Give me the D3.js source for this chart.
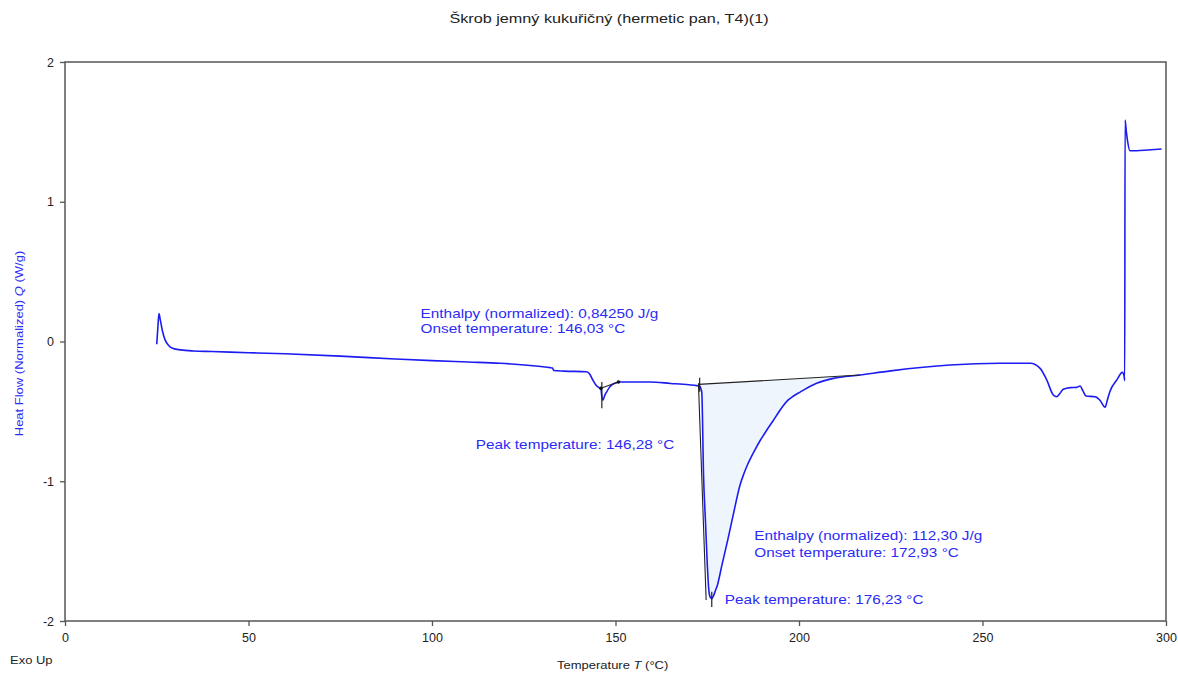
<!DOCTYPE html>
<html>
<head>
<meta charset="utf-8">
<script src="https://cdn.jsdelivr.net/npm/d3@7"></script>
<style>
  body { margin: 0; background: #fff; }
  svg { font-family: "Liberation Sans", Arial, sans-serif; }
</style>
</head>
<body>
<svg id="chart" width="1178" height="673"></svg>
<script>
// DSC curve, temperature (°C) vs normalized heat flow (W/g)
var temps = [25.0, 25.3, 25.6, 26.0, 26.6, 27.3, 28.3, 29.5, 31.5, 35, 40, 50, 60, 75, 90, 100, 110,
  118.5, 126, 132.2, 132.8, 133.2, 136, 142.1, 143.0, 143.8, 144.6, 145.4, 146.0, 146.3, 146.6, 147.0,
  147.6, 148.3, 149.0, 150.0, 151, 155, 159.4, 165, 170, 172.1, 172.9, 173.5, 174.0, 174.5, 175.0, 175.4,
  175.8, 176.2, 176.7, 177.2, 177.8, 179, 180.5, 182, 183.9, 185, 186, 187, 188, 189.5, 191.2, 193, 194.5,
  195.7, 197, 198.5, 200.3, 204.8, 209.4, 216.6, 225, 241.1, 254.8, 263, 265.7, 267.5, 269.3, 270.2, 271,
  272, 274, 275.7, 276.6, 277.3, 278.2, 280.7, 282.0, 283.4, 284.0, 284.7, 286.6, 288.1, 288.6, 288.75,
  288.85, 289.2, 289.5, 290.2, 292, 295, 298.8];
var heatFlow = [-0.02, 0.10, 0.20, 0.15, 0.07, 0.01, -0.03, -0.05, -0.06, -0.068, -0.072, -0.08, -0.088,
  -0.105, -0.125, -0.137, -0.147, -0.156, -0.17, -0.187, -0.19, -0.208, -0.212, -0.216, -0.235, -0.275,
  -0.31, -0.328, -0.335, -0.40, -0.42, -0.39, -0.36, -0.33, -0.31, -0.297, -0.29, -0.29, -0.29, -0.30,
  -0.31, -0.316, -0.32, -0.36, -0.97, -1.28, -1.59, -1.77, -1.83, -1.84, -1.82, -1.785, -1.74, -1.6,
  -1.43, -1.25, -1.03, -0.945, -0.88, -0.825, -0.775, -0.705, -0.635, -0.565, -0.505, -0.46, -0.42,
  -0.39, -0.362, -0.299, -0.264, -0.24, -0.21, -0.168, -0.156, -0.156, -0.192, -0.275, -0.383, -0.395,
  -0.375, -0.342, -0.33, -0.328, -0.318, -0.35, -0.39, -0.395, -0.42, -0.471, -0.42, -0.359, -0.275,
  -0.221, -0.25, -0.28, 1.585, 1.50, 1.44, 1.365, 1.365, 1.37, 1.378];

// integration baselines [T, Q]
var baseSmall = [[146.0, -0.335], [150.8, -0.29]];
var baseLarge = [[172.6, -0.307], [216.6, -0.24]];
var onsetTangent = [[172.6, -0.299], [174.7, -1.85]];

var xTicks = [0, 50, 100, 150, 200, 250, 300];
var yTicks = [-2, -1, 0, 1, 2];

var svg = d3.select('#chart');
var margin = { top: 62, right: 12, bottom: 52, left: 65 };
var W = 1178, H = 673;
var blue = '#2b2bf5';

var x = d3.scaleLinear().domain([0, 300]).range([margin.left, W - margin.right]);
var y = d3.scaleLinear().domain([-2, 2]).range([H - margin.bottom, margin.top]);

var pts = temps.map(function (t, i) { return [t, heatFlow[i]]; });

// text in the reference is rendered a bit wider than Arial, so stretch it horizontally
function wideText(px, py, size, color, sx, anchor, rot) {
  var tr = 'translate(' + px + ',' + py + ')' + (rot ? ' rotate(' + rot + ')' : '') + ' scale(' + sx + ',1)';
  return svg.append('g').attr('transform', tr)
    .append('text')
    .attr('text-anchor', anchor || 'start')
    .attr('font-size', size)
    .attr('fill', color);
}

// title
wideText(609, 23, 13.5, '#222', 1.2, 'middle').text('Škrob jemný kukuřičný (hermetic pan, T4)(1)');

// shaded area of the big peak
function baseAt(t) {
  var a = baseLarge[0], b = baseLarge[1];
  return a[1] + (b[1] - a[1]) * (t - a[0]) / (b[0] - a[0]);
}
var fillPts = pts.filter(function (p) { return p[0] >= 172.9 && p[0] <= 216.6; });
svg.append('path')
  .datum(fillPts)
  .attr('fill', '#eef5fd')
  .attr('d', d3.area()
    .x(function (d) { return x(d[0]); })
    .y0(function (d) { return y(baseAt(d[0])); })
    .y1(function (d) { return y(d[1]); })
    .curve(d3.curveMonotoneX));

// frame
svg.append('rect')
  .attr('x', x(0)).attr('y', y(2))
  .attr('width', x(300) - x(0)).attr('height', y(-2) - y(2))
  .attr('fill', 'none').attr('stroke', '#555').attr('stroke-width', 1.5);

// axes
var xAxis = svg.append('g').attr('transform', 'translate(0,' + y(-2) + ')');
xAxis.call(d3.axisBottom(x).tickValues(d3.range(0, 300.1, 12.5)).tickSize(3).tickFormat(''));
xAxis.call(d3.axisBottom(x).tickValues(xTicks).tickSize(5).tickPadding(7).tickFormat(d3.format('d')));
var yAxis = svg.append('g').attr('transform', 'translate(' + x(0) + ',0)');
yAxis.call(d3.axisLeft(y).tickValues(d3.range(-2, 2.01, 0.25)).tickSize(2).tickFormat(''));
yAxis.call(d3.axisLeft(y).tickValues(yTicks).tickSize(5).tickPadding(6).tickFormat(function (d) { return d; }));
svg.selectAll('.domain').remove();
svg.selectAll('.tick line').attr('stroke', '#555').attr('stroke-width', 1.3);
svg.selectAll('.tick text').attr('font-size', 12.5).attr('fill', '#222')
  .attr('font-family', '"Liberation Sans", Arial, sans-serif');

// axis titles
wideText(10, 664, 11.5, '#222', 1.13).text('Exo Up');
var xt = wideText(557, 669, 11.5, '#222', 1.13);
xt.append('tspan').text('Temperature ');
xt.append('tspan').attr('font-style', 'italic').text('T');
xt.append('tspan').text('  (°C)');
var yt = wideText(23, y(0) + 2, 11.5, blue, 1.13, 'middle', -90);
yt.append('tspan').text('Heat Flow (Normalized) ');
yt.append('tspan').attr('font-style', 'italic').text('Q');
yt.append('tspan').text('  (W/g)');

// curve
svg.append('path')
  .datum(pts)
  .attr('fill', 'none')
  .attr('stroke', '#1c1cf2')
  .attr('stroke-width', 1.6)
  .attr('stroke-linejoin', 'round')
  .attr('d', d3.line()
    .x(function (d) { return x(d[0]); })
    .y(function (d) { return y(d[1]); })
    .curve(d3.curveMonotoneX));

// evaluation lines
var seg = d3.line().x(function (d) { return x(d[0]); }).y(function (d) { return y(d[1]); });
[baseSmall, baseLarge, onsetTangent].forEach(function (s) {
  svg.append('path').attr('d', seg(s)).attr('fill', 'none')
    .attr('stroke', '#222').attr('stroke-width', 1.1);
});
// markers: [T, Q from, Q to]
var markers = [[146.28, -0.29, -0.478], [172.93, -0.26, -0.36], [176.23, -1.79, -1.90]];
markers.forEach(function (m) {
  svg.append('path').attr('d', seg([[m[0], m[1]], [m[0], m[2]]]))
    .attr('stroke', '#222').attr('stroke-width', 1.2);
});
baseSmall.forEach(function (p) {
  svg.append('circle').attr('cx', x(p[0])).attr('cy', y(p[1])).attr('r', 1.8).attr('fill', '#111');
});

// annotations [T, Q, text]
var notes = [
  [96.9, 0.17, 'Enthalpy (normalized): 0,84250 J/g'],
  [96.9, 0.06, 'Onset temperature: 146,03 °C'],
  [111.9, -0.77, 'Peak temperature: 146,28 °C'],
  [187.8, -1.42, 'Enthalpy (normalized): 112,30 J/g'],
  [187.8, -1.545, 'Onset temperature: 172,93 °C'],
  [179.8, -1.88, 'Peak temperature: 176,23 °C']
];
notes.forEach(function (d) {
  wideText(x(d[0]), y(d[1]), 13, blue, 1.18).text(d[2]);
});
</script>
</body>
</html>
